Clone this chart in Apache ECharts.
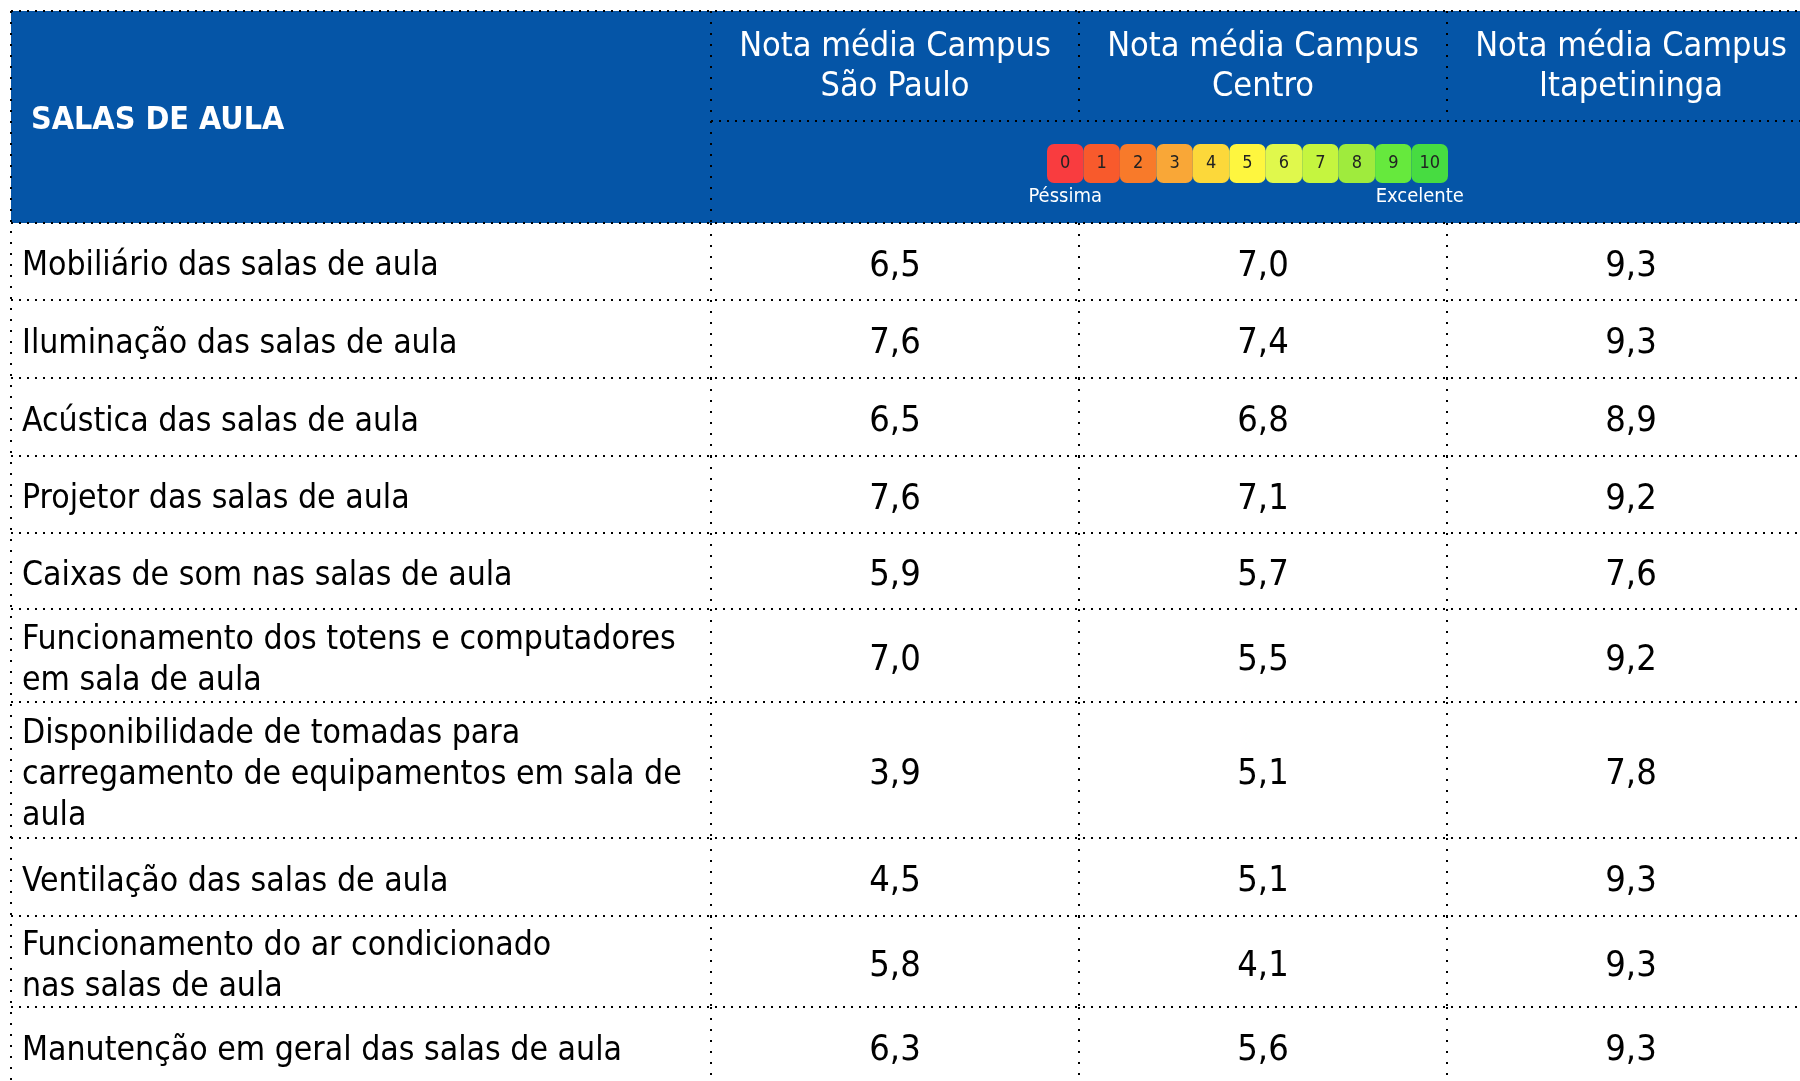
<!DOCTYPE html>
<html>
<head>
<meta charset="utf-8">
<title>Salas de aula</title>
<script src="https://cdn.jsdelivr.net/npm/echarts@6/dist/echarts.min.js"></script>
<style>
  html, body { margin: 0; padding: 0; background: #fff; }
  #main { width: 1800px; height: 1081px; }
</style>
</head>
<body>
<div id="main"></div>
<script>
// dados da tabela
const titulo = 'SALAS DE AULA';
const campus = [
  'Nota média Campus\nSão Paulo',
  'Nota média Campus\nCentro',
  'Nota média Campus\nItapetininga'
];
const itens = [
  'Mobiliário das salas de aula',
  'Iluminação das salas de aula',
  'Acústica das salas de aula',
  'Projetor das salas de aula',
  'Caixas de som nas salas de aula',
  'Funcionamento dos totens e computadores\nem sala de aula',
  'Disponibilidade de tomadas para\ncarregamento de equipamentos em sala de\naula',
  'Ventilação das salas de aula',
  'Funcionamento do ar condicionado\nnas salas de aula',
  'Manutenção em geral das salas de aula'
];
const notasSaoPaulo = [6.5, 7.6, 6.5, 7.6, 5.9, 7.0, 3.9, 4.5, 5.8, 6.3];
const notasCentro = [7.0, 7.4, 6.8, 7.1, 5.7, 5.5, 5.1, 5.1, 4.1, 5.6];
const notasItapetininga = [9.3, 9.3, 8.9, 9.2, 7.6, 9.2, 7.8, 9.3, 9.3, 9.3];
const escala = ['0', '1', '2', '3', '4', '5', '6', '7', '8', '9', '10'];
const escalaMin = 'Péssima';
const escalaMax = 'Excelente';

// layout (unidades do eixo = pixels a partir do canto da tabela)
const alturaCab = 212;
const linhaCab = 110;
const alturas = [77, 78, 78, 77, 76, 93, 136, 78, 91, 78];
const colunas = [0, 700, 1068, 1436, 1804];
const corCab = '#0555a7';
const coresEscala = ['#f93c3f', '#f85a2c', '#f87a2a', '#f9a737', '#fcd83a', '#fef63f',
                     '#e0f84c', '#c5f53f', '#9feb3d', '#66e93d', '#47dc41'];
const fonte = '"DejaVu Sans Condensed", "DejaVu Sans", sans-serif';

const topos = [];
let acc = alturaCab;
alturas.forEach(h => { topos.push(acc); acc += h; });

const pontilhado = (p1, p2, dash) => ({
  type: 'line',
  shape: { x1: p1[0], y1: p1[1], x2: p2[0], y2: p2[1] },
  style: { stroke: '#000', lineWidth: 2, lineDash: dash }
});
const texto = (p, txt, font, cor, align, lh) => ({
  type: 'text',
  style: {
    text: txt, x: p[0], y: p[1], font: font, fill: cor,
    align: align, verticalAlign: 'middle',
    textAlign: align, textVerticalAlign: 'middle',
    lineHeight: lh
  }
});
const fmt = v => v.toFixed(1).replace('.', ',');

function desenhaFundo(params, api) {
  const a = api.coord([0, 0]);
  const b = api.coord([colunas[4], alturaCab]);
  return {
    type: 'group',
    children: [
      { type: 'rect', shape: { x: a[0], y: a[1], width: b[0] - a[0], height: b[1] - a[1] },
        style: { fill: corCab } },
      texto(api.coord([20, 110]), titulo, `bold 32px ${fonte}`, '#fff', 'left', 36),
      pontilhado(api.coord([0, 0]), api.coord([colunas[4], 0]), [2, 6]),
      pontilhado(api.coord([0, alturaCab]), api.coord([colunas[4], alturaCab]), [2, 6]),
      pontilhado(api.coord([0, 0]), api.coord([0, acc]), [2, 9])
    ]
  };
}

function desenhaCabecalho(params, api) {
  const j = params.dataIndex;
  const xa = colunas[j + 1], xb = colunas[j + 2];
  return {
    type: 'group',
    children: [
      texto(api.coord([(xa + xb) / 2, 56]), campus[j], `34px ${fonte}`, '#fff', 'center', 40),
      pontilhado(api.coord([xa, 0]), api.coord([xa, j === 0 ? alturaCab : linhaCab]), [2, 9]),
      pontilhado(api.coord([xa, linhaCab]), api.coord([xb, linhaCab]), [2, 6])
    ]
  };
}

function desenhaLinha(params, api) {
  const i = params.dataIndex;
  const y0 = topos[i], y1 = y0 + alturas[i], ym = (y0 + y1) / 2;
  const notas = [notasSaoPaulo[i], notasCentro[i], notasItapetininga[i]];
  const children = [
    texto(api.coord([11, ym + 5]), itens[i], `33.5px ${fonte}`, '#000', 'left', 41),
    pontilhado(api.coord([0, y1]), api.coord([colunas[4], y1]), [2, 6])
  ];
  notas.forEach((v, j) => {
    const xm = (colunas[j + 1] + colunas[j + 2]) / 2;
    children.push(texto(api.coord([xm, ym + 5]), fmt(v), `36px ${fonte}`, '#000', 'center', 40));
    children.push(pontilhado(api.coord([colunas[j + 1], y0]), api.coord([colunas[j + 1], y1]), [2, 9]));
  });
  return { type: 'group', children: children };
}

const chart = echarts.init(document.getElementById('main'), null, { renderer: 'canvas' });
chart.setOption({
  backgroundColor: '#fff',
  animation: false,
  grid: [
    { left: 11, top: 11, right: 0, bottom: 0 },
    { left: 1047, top: 144, width: 401, height: 39 }
  ],
  xAxis: [
    { type: 'value', min: 0, max: 1789, show: false, gridIndex: 0 },
    {
      type: 'category', data: escala, gridIndex: 1, z: 10,
      axisLine: { show: false }, axisTick: { show: false },
      axisLabel: {
        interval: 0, margin: 4, color: '#fff', fontSize: 20, fontFamily: fonte,
        formatter: (v, idx) => idx === 0 ? '{a|' + escalaMin + '}'
          : (idx === escala.length - 1 ? '{b|' + escalaMax + '}' : ''),
        rich: {
          a: { color: '#fff', fontSize: 20, fontFamily: fonte, padding: [0, 0, 0, 0] },
          b: { color: '#fff', fontSize: 20, fontFamily: fonte, padding: [0, 20, 0, 0] }
        }
      }
    }
  ],
  yAxis: [
    { type: 'value', min: 0, max: 1070, inverse: true, show: false, gridIndex: 0 },
    { type: 'value', min: 0, max: 1, show: false, gridIndex: 1 }
  ],
  series: [
    {
      type: 'custom', name: 'fundo', xAxisIndex: 0, yAxisIndex: 0, z: 1,
      data: [titulo], renderItem: desenhaFundo, silent: true
    },
    {
      type: 'custom', name: 'cabecalho', xAxisIndex: 0, yAxisIndex: 0, z: 2,
      data: campus, renderItem: desenhaCabecalho, silent: true
    },
    {
      type: 'custom', name: 'notas', xAxisIndex: 0, yAxisIndex: 0, z: 2,
      data: itens, renderItem: desenhaLinha, silent: true
    },
    {
      type: 'bar', name: 'escala', xAxisIndex: 1, yAxisIndex: 1, z: 3,
      barCategoryGap: '0%',
      data: escala.map((e, k) => ({ value: 1, itemStyle: { color: coresEscala[k] } })),
      itemStyle: { borderRadius: 7 },
      label: {
        show: true, position: 'inside', color: '#222', fontSize: 18, fontFamily: fonte,
        formatter: p => escala[p.dataIndex]
      },
      silent: true
    }
  ]
});
</script>
</body>
</html>
